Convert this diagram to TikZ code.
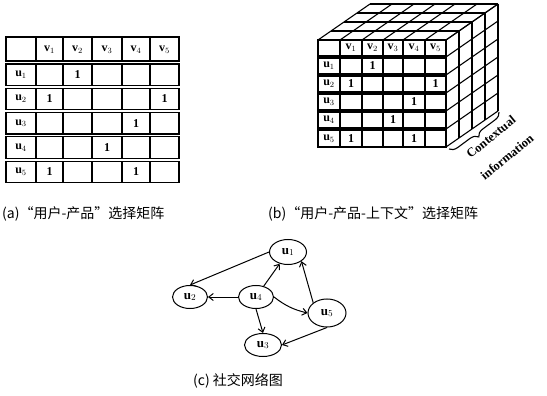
\documentclass[tikz,border=0pt]{standalone}
\usepackage{fontspec}
\setmainfont{Liberation Serif}
\newfontfamily\cjk{Noto Sans CJK SC}
\usetikzlibrary{shapes.geometric,arrows.meta,decorations.pathreplacing}
\begin{document}
\begin{tikzpicture}[x=1pt,y=-1pt,
  gridline/.style={line width=1.1pt},
  celltxt/.style={font=\fontsize{12}{12}\selectfont\bfseries, inner sep=0pt},
  onetxt/.style={font=\fontsize{12}{12}\selectfont\bfseries, inner sep=0pt},
  captxt/.style={font=\fontsize{14}{15}\selectfont\cjk, inner sep=0pt, anchor=west},
  ctxtxt/.style={font=\fontsize{12.5}{13}\selectfont\bfseries, rotate=39, inner sep=0pt},
  unode/.style={ellipse, draw, line width=1pt, minimum width=36pt, minimum height=23pt, inner sep=0pt, font=\fontsize{13}{13}\selectfont\bfseries},
  arr/.style={line width=1pt, -{Straight Barb[length=4.5pt,width=7pt]}}]
\useasboundingbox (0,0) rectangle (547,396);

% ---------- (a) matrix ----------
\foreach \yt/\yb in {37/61, 64/85.5, 88.3/109.8, 112.6/134, 136.9/158.4, 161.2/182.7}{
  \draw[gridline] (6,\yt) rectangle (179,\yb);
  \foreach \x in {36,63,92,122,150}{\draw[gridline] (\x,\yt) -- (\x,\yb);}
}
\foreach \x/\i in {49.5/1,77.5/2,107/3,136/4,164.5/5}{
  \node[celltxt] (av\i) at (\x,49.5) {v$_{\i}$};}
\foreach \y/\i in {74.8/1,99/2,123.3/3,147.6/4,172/5}{
  \node[celltxt] (au\i) at (21,\y) {u$_{\i}$};}
\node[onetxt] (a12) at (77.5,74.8) {1};
\node[onetxt] (a21) at (49.5,99) {1};
\node[onetxt] (a25) at (164.5,99) {1};
\node[onetxt] (a34) at (136,123.3) {1};
\node[onetxt] (a43) at (107,147.6) {1};
\node[onetxt] (a51) at (49.5,172) {1};
\node[onetxt] (a54) at (136,172) {1};

% ---------- (b) cube ----------
% top face
\foreach \j in {0,...,4}{
  \draw[gridline] (318+13*\j,40-9*\j) -- (446+13*\j,40-9*\j);}
\foreach \x in {318,340,362,383,403,425,446}{
  \draw[gridline] (\x,40) -- (\x+52,4);}
% right face
\foreach \j in {0,...,4}{
  \draw[gridline] (446+13*\j,40-9*\j) -- (446+13*\j,147-9*\j);}
\foreach \y in {40,57,75,93,111,129,147}{
  \draw[gridline] (446,\y) -- (498,\y-36);}
% front face rows
\foreach \yt/\yb in {40/56, 58/74, 76/92, 94/110, 112/128, 130/147}{
  \fill[white] (318,\yt) rectangle (446,\yb);
  \draw[gridline] (318,\yt) rectangle (446,\yb);
  \foreach \x in {340,362,383,403,425}{\draw[gridline] (\x,\yt) -- (\x,\yb);}
}
\foreach \x/\i in {351/1,372.5/2,393/3,414/4,435.5/5}{
  \node[celltxt] (bv\i) at (\x,48) {v$_{\i}$};}
\foreach \y/\i in {66/1,84/2,102/3,120/4,138.5/5}{
  \node[celltxt] (bu\i) at (329,\y) {u$_{\i}$};}
\node[onetxt] (b12) at (372.5,66) {1};
\node[onetxt] (b21) at (351,84) {1};
\node[onetxt] (b25) at (435.5,84) {1};
\node[onetxt] (b34) at (414,102) {1};
\node[onetxt] (b43) at (393,120) {1};
\node[onetxt] (b51) at (351,138.5) {1};
\node[onetxt] (b54) at (414,138.5) {1};
% brace
\draw[line width=1.1pt, decorate, decoration={brace, amplitude=8pt}] (499,112) -- (449,149);
\node[ctxtxt] (ctx1) at (491,137) {Contextual};
\node[ctxtxt] (ctx2) at (507,157) {information};

% ---------- captions ----------
\node[captxt] (capa) at (2,214) {(a)“用户-产品”选择矩阵};
\node[captxt] (capb) at (268,214) {(b)“用户-产品-上下文”选择矩阵};
\node[captxt] (capc) at (193,381) {(c) 社交网络图};

% ---------- (c) graph ----------
\node[unode, minimum width=37pt, minimum height=25pt] (u1) at (288,252) {u$_1$};
\node[unode, minimum width=35pt] (u2) at (190,297) {u$_2$};
\node[unode, minimum width=35pt] (u4) at (256,297) {u$_4$};
\node[unode, minimum width=38pt, minimum height=28pt] (u5) at (327,313) {u$_5$};
\node[unode, minimum width=37pt] (u3) at (263,345) {u$_3$};

\draw[arr] (u1.west) -- (u2.north);
\draw[arr] (u4) -- (u1);
\draw[arr] (u4) -- (u2);
\draw[arr] (u4.east) to[bend right=12] (u5.west);
\draw[arr] (u4.south) -- (u3.north);
\draw[arr] (u5.north west) -- (u1.south east);
\draw[arr] (u5.south) -- (u3.east);
\end{tikzpicture}
\end{document}
